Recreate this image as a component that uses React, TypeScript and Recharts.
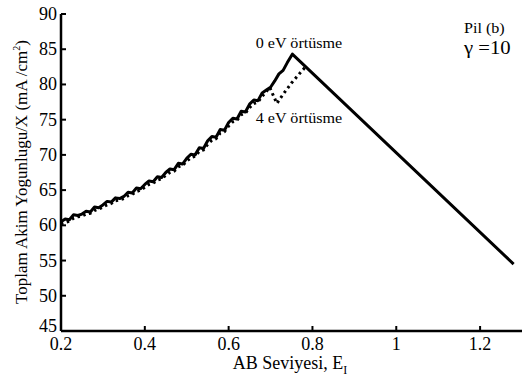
import { LineChart, Line, XAxis, YAxis } from 'recharts';

// E_I values and current density for 0 eV overlap (solid)
const solidX = [
  0.2, 0.21, 0.22, 0.23, 0.24, 0.25, 0.26, 0.27, 0.28, 0.29,
  0.3, 0.31, 0.32, 0.33, 0.34, 0.35, 0.36, 0.37, 0.38, 0.39,
  0.4, 0.41, 0.42, 0.43, 0.44, 0.45, 0.46, 0.47, 0.48, 0.49,
  0.5, 0.51, 0.52, 0.53, 0.54, 0.55, 0.56, 0.57, 0.58, 0.59,
  0.6, 0.61, 0.62, 0.63, 0.64, 0.65, 0.66, 0.67, 0.68, 0.69,
  0.7, 0.71, 0.72, 0.73, 0.74, 0.752, 1.28,
];
const solidY = [
  60.5, 60.9, 60.8, 61.5, 61.4, 61.6, 62.0, 61.9, 62.6, 62.5,
  62.9, 63.4, 63.3, 63.9, 63.8, 64.1, 64.7, 64.6, 65.3, 65.2,
  65.8, 66.3, 66.2, 66.9, 66.8, 67.5, 68.0, 67.9, 68.8, 68.7,
  69.5, 70.1, 70.0, 71.0, 70.9, 72.0, 72.6, 72.5, 73.6, 73.5,
  74.6, 75.2, 75.1, 76.2, 76.1, 77.2, 77.8, 77.7, 78.8, 79.2,
  79.6, 80.5, 81.5, 82.0, 83.1, 84.3, 54.5,
];

// 4 eV overlap (dotted)
const dottedX = [
  0.2, 0.21, 0.22, 0.23, 0.24, 0.25, 0.26, 0.27, 0.28, 0.29,
  0.3, 0.31, 0.32, 0.33, 0.34, 0.35, 0.36, 0.37, 0.38, 0.39,
  0.4, 0.41, 0.42, 0.43, 0.44, 0.45, 0.46, 0.47, 0.48, 0.49,
  0.5, 0.51, 0.52, 0.53, 0.54, 0.55, 0.56, 0.57, 0.58, 0.59,
  0.6, 0.61, 0.62, 0.63, 0.64, 0.65, 0.66, 0.67, 0.68, 0.69,
  0.698, 0.715, 0.73, 0.75, 0.77, 0.785,
];
const dottedY = [
  60.2, 60.4, 60.6, 61.0, 61.2, 61.3, 61.6, 61.7, 62.1, 62.3,
  62.6, 62.9, 63.1, 63.5, 63.6, 63.8, 64.2, 64.4, 64.8, 65.0,
  65.4, 65.8, 66.0, 66.4, 66.6, 67.1, 67.5, 67.7, 68.3, 68.5,
  69.1, 69.6, 69.8, 70.5, 70.7, 71.5, 72.1, 72.3, 73.1, 73.3,
  74.1, 74.7, 74.9, 75.7, 75.9, 76.7, 77.3, 77.5, 78.3, 79.0,
  79.6, 77.3, 78.6, 80.2, 81.6, 82.6,
];

const xTicks = [0.2, 0.4, 0.6, 0.8, 1, 1.2];
const yTicks = [45, 50, 55, 60, 65, 70, 75, 80, 85, 90];

const solid = solidX.map((x, i) => ({ x, y: solidY[i] }));
const dotted = dottedX.map((x, i) => ({ x, y: dottedY[i] }));

const serif = '"Liberation Serif", "Times New Roman", serif';
const frame = { stroke: '#000', strokeWidth: 2.5 };
const TL = 5; // inward tick length

// tick renderers: labels outside, tick marks pointing into the plot
const BottomTick = (p: any) => (
  <g>
    <line x1={p.x} x2={p.x} y1={p.y} y2={p.y - TL} stroke="#000" strokeWidth={2} />
    <text x={p.x} y={p.y} dy={19} textAnchor="middle" fontSize={18} fontFamily={serif} fill="#000">
      {p.payload.value}
    </text>
  </g>
);
const TopTick = (p: any) => (
  <line x1={p.x} x2={p.x} y1={p.y} y2={p.y + TL} stroke="#000" strokeWidth={2} />
);
const LeftTick = (p: any) => (
  <g>
    <line x1={p.x} x2={p.x + TL} y1={p.y} y2={p.y} stroke="#000" strokeWidth={2} />
    <text x={p.x - 4} y={p.y} dy={p.payload.value === 45 ? 1 : 6} textAnchor="end" fontSize={18} fontFamily={serif} fill="#000">
      {p.payload.value}
    </text>
  </g>
);
const RightTick = (p: any) => (
  <line x1={p.x} x2={p.x - TL} y1={p.y} y2={p.y} stroke="#000" strokeWidth={2} />
);

const note = { position: 'absolute' as const, whiteSpace: 'nowrap' as const, fontFamily: serif, lineHeight: 1 };

export default function App() {
  return (
    <div style={{ position: 'absolute', left: 0, top: 0, width: 528, height: 378, background: '#fff', fontFamily: serif, color: '#000' }}>
      <LineChart width={528} height={378} data={solid} margin={{ top: 14, right: 6, bottom: 0, left: 0 }}>
        <XAxis xAxisId="b" dataKey="x" type="number" domain={[0.2, 1.3]} ticks={xTicks} height={47}
          axisLine={frame} tickLine={false} tickSize={0} tickMargin={0} tick={BottomTick} allowDataOverflow />
        <XAxis xAxisId="t" dataKey="x" type="number" orientation="top" domain={[0.2, 1.3]} ticks={xTicks} height={0}
          axisLine={frame} tickLine={false} tickSize={0} tickMargin={0} tick={TopTick} allowDataOverflow />
        <YAxis yAxisId="l" type="number" domain={[45, 90]} ticks={yTicks} width={61}
          axisLine={frame} tickLine={false} tickSize={0} tickMargin={0} tick={LeftTick} allowDataOverflow />
        <YAxis yAxisId="r" type="number" orientation="right" domain={[45, 90]} ticks={yTicks} width={0}
          axisLine={frame} tickLine={false} tickSize={0} tickMargin={0} tick={RightTick} allowDataOverflow />
        <Line xAxisId="b" yAxisId="l" data={dotted} dataKey="y" stroke="#000" strokeWidth={3}
          strokeDasharray="2.5 3.5" dot={false} isAnimationActive={false} />
        <Line xAxisId="b" yAxisId="l" data={solid} dataKey="y" stroke="#000" strokeWidth={3}
          dot={false} isAnimationActive={false} strokeLinejoin="round" />
      </LineChart>
      <div style={{ ...note, left: 21, top: 172, transform: 'translate(-50%, -50%) rotate(-90deg)', fontSize: 17 }}>
        Toplam Akim Yogunlugu/X (mA /cm<sup style={{ fontSize: 10, lineHeight: 0 }}>2</sup>)
      </div>
      <div style={{ ...note, left: 290, top: 354, transform: 'translateX(-50%)', fontSize: 18 }}>
        AB Seviyesi, E<sub style={{ fontSize: 12, lineHeight: 0 }}>I</sub>
      </div>
      <div style={{ ...note, left: 299, top: 44, transform: 'translate(-50%, -50%) scaleX(1.15)', fontSize: 14 }}>
        0 eV örtüsme
      </div>
      <div style={{ ...note, left: 299, top: 119, transform: 'translate(-50%, -50%) scaleX(1.15)', fontSize: 14 }}>
        4 eV örtüsme
      </div>
      <div style={{ ...note, left: 464, top: 29, transform: 'translateY(-50%) scaleX(1.15)', transformOrigin: 'left center', fontSize: 14 }}>
        Pil (b)
      </div>
      <div style={{ ...note, left: 464, top: 48, transform: 'translateY(-50%) scaleX(1.15)', transformOrigin: 'left center', fontSize: 18 }}>
        γ =10
      </div>
    </div>
  );
}
